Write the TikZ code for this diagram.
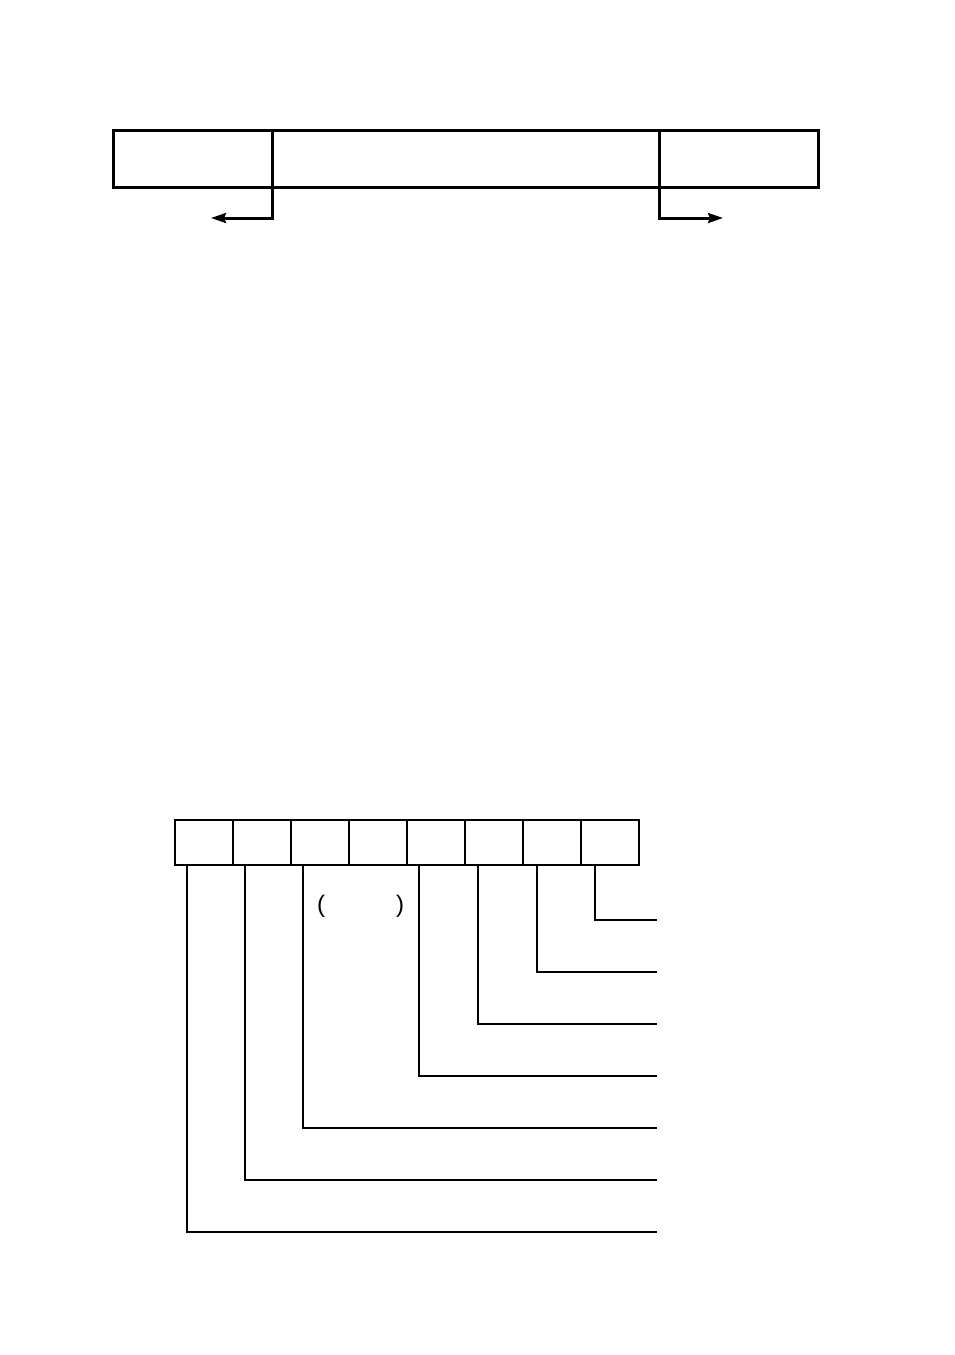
\documentclass[tikz,border=0pt]{standalone}
\usepackage{fontspec}
\setmainfont{Liberation Sans}
\usetikzlibrary{arrows.meta}
\begin{document}
\begin{tikzpicture}[x=1pt,y=-1pt,
  thick box/.style={draw,line width=3pt},
  cell/.style={draw,line width=1.4pt,minimum width=58pt,minimum height=45pt,inner sep=0pt,outer sep=0pt},
  thinlead/.style={line width=1.5pt},
  thicklead/.style={line width=2.3pt},
  arr/.style={line width=3pt,-{Stealth[length=15pt,width=10pt,inset=2pt]}}]
\useasboundingbox (0,0) rectangle (954,1355);
% top frame
\node[thick box,minimum width=159pt,minimum height=57pt,inner sep=0pt,outer sep=0pt,anchor=north west] (fa) at (113,130) {};
\node[thick box,minimum width=387pt,minimum height=57pt,inner sep=0pt,outer sep=0pt,anchor=north west] (fb) at (272,130) {};
\node[thick box,minimum width=159pt,minimum height=57pt,inner sep=0pt,outer sep=0pt,anchor=north west] (fc) at (659,130) {};
\coordinate (la) at (211,218);
\coordinate (ra) at (723,218);
\draw[arr] (fb.south west) -- ++(0,31) -- (la);
\draw[arr] (fc.south west) -- ++(0,31) -- (ra);
% bottom byte
\foreach \i in {0,...,7}{
  \node[cell,anchor=north west] (c\i) at (175+58*\i,820) {};
}
\draw[line width=2.2pt] (c0.north west) rectangle (c7.south east);
% leads
\coordinate (e0) at (657,1232);
\coordinate (e1) at (657,1180);
\coordinate (e2) at (657,1128);
\coordinate (e3) at (657,1076);
\coordinate (e4) at (657,1024);
\coordinate (e5) at (657,972);
\coordinate (e6) at (657,920);
\draw[thinlead] (c0.south west) ++(12,0) |- (e0);
\draw[thicklead] (c1.south west) ++(12,0) |- (e1);
\draw[thinlead] (c2.south west) ++(12,0) |- (e2);
\draw[thicklead] (c4.south west) ++(12,0) |- (e3);
\draw[thicklead] (c5.south west) ++(13,0) |- (e4);
\draw[thicklead] (c6.south west) ++(14,0) |- (e5);
\draw[thicklead] (c7.south west) ++(14,0) |- (e6);
\node[font=\fontsize{24}{24}\selectfont,inner sep=0pt] (lp) at (321,906) {(};
\node[font=\fontsize{24}{24}\selectfont,inner sep=0pt] (rp) at (400,906) {)};
\end{tikzpicture}
\end{document}
